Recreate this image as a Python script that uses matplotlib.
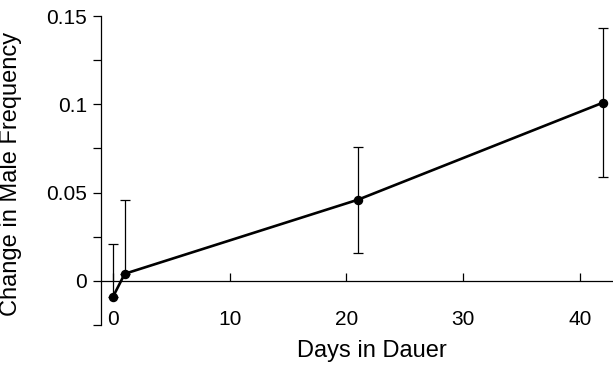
import numpy as np
import matplotlib
matplotlib.use('Agg')
import matplotlib.pyplot as plt
from matplotlib.ticker import MultipleLocator

plt.rcParams['font.family'] = ['Liberation Sans', 'DejaVu Sans']

days = [0, 1, 21, 42]
change = [-0.009, 0.004, 0.046, 0.101]
err_low = [0.0, 0.0, 0.030, 0.042]   # lower bars of first two points not shown
err_high = [0.030, 0.042, 0.030, 0.042]
x_ticks = [0, 10, 20, 30, 40]
y_ticks = [0, 0.05, 0.1, 0.15]
y_labels = ['0', '0.05', '0.1', '0.15']

fig = plt.figure(figsize=(6.13, 3.69), dpi=100)
ax = fig.add_axes([101/613, 44/369, 512/613, 309/369])

ax.errorbar(days, change, yerr=[err_low, err_high], fmt='none',
            ecolor='black', elinewidth=0.9, capsize=3.3, capthick=0.9)
ax.plot(days, change, color='black', lw=1.9, marker='o', ms=5.8, zorder=3)

ax.set_xlim(-1.03, 42.83)
ax.set_ylim(-0.025, 0.15)

ax.spines['top'].set_visible(False)
ax.spines['right'].set_visible(False)
ax.spines['bottom'].set_position(('data', 0))
ax.spines['left'].set_linewidth(0.9)
ax.spines['bottom'].set_linewidth(0.9)

ax.set_xticks(x_ticks)
ax.tick_params(axis='x', direction='in', length=6, width=0.9, pad=21, labelsize=15)
ax.set_yticks(y_ticks)
ax.set_yticklabels(y_labels)
ax.yaxis.set_minor_locator(MultipleLocator(0.025))
ax.tick_params(axis='y', which='both', direction='out', length=6, width=0.9, labelsize=15, pad=4)

ax.set_xlabel('Days in Dauer', fontsize=17)
ax.xaxis.set_label_coords(0.529, -0.05)
ax.set_ylabel('Change in Male Frequency', fontsize=17)
ax.yaxis.set_label_coords(-0.154, 0.49)

fig.savefig('out.png', dpi=100)
